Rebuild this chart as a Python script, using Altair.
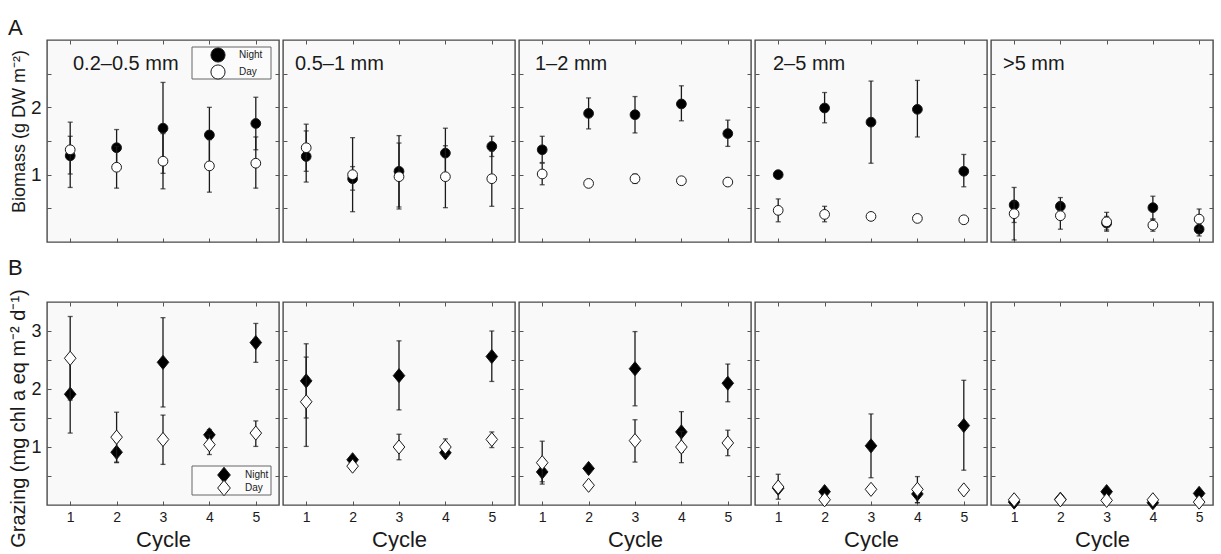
import altair as alt
import pandas as pd

# ---------------- data ----------------
sizes = ["0.2–0.5 mm", "0.5–1 mm", "1–2 mm", "2–5 mm", ">5 mm"]
cycles = [1, 2, 3, 4, 5]

# Biomass (g DW m-2), row A
bio_night = [[1.28, 1.40, 1.69, 1.59, 1.76],
             [1.27, 0.94, 1.05, 1.32, 1.42],
             [1.37, 1.91, 1.89, 2.05, 1.61],
             [1.00, 1.99, 1.78, 1.97, 1.05],
             [0.55, 0.53, 0.28, 0.51, 0.19]]
bio_night_lo = [[1.01, 1.13, 1.02, 1.18, 1.37],
                [0.89, 0.77, 0.52, 0.95, 1.27],
                [1.18, 1.68, 1.62, 1.80, 1.42],
                [1.00, 1.77, 1.17, 1.56, 0.82],
                [0.29, 0.40, 0.18, 0.34, 0.09]]
bio_night_hi = [[1.57, 1.67, 2.37, 2.00, 2.15],
                [1.65, 1.12, 1.58, 1.69, 1.57],
                [1.57, 2.14, 2.16, 2.32, 1.81],
                [1.00, 2.22, 2.39, 2.40, 1.30],
                [0.81, 0.66, 0.38, 0.68, 0.29]]
bio_day = [[1.37, 1.11, 1.20, 1.13, 1.17],
           [1.40, 1.00, 0.97, 0.97, 0.94],
           [1.01, 0.87, 0.94, 0.91, 0.89],
           [0.47, 0.41, 0.38, 0.35, 0.33],
           [0.42, 0.39, 0.30, 0.25, 0.34]]
bio_day_lo = [[0.81, 0.80, 0.79, 0.74, 0.80],
              [1.05, 0.45, 0.49, 0.51, 0.53],
              [0.85, 0.82, 0.87, 0.91, 0.89],
              [0.30, 0.30, 0.38, 0.35, 0.33],
              [0.03, 0.19, 0.16, 0.16, 0.19]]
bio_day_hi = [[1.78, 1.42, 1.61, 1.52, 1.56],
              [1.75, 1.55, 1.47, 1.43, 1.35],
              [1.17, 0.92, 1.01, 0.91, 0.89],
              [0.64, 0.53, 0.38, 0.35, 0.33],
              [0.60, 0.59, 0.44, 0.34, 0.49]]

# Grazing (mg chl a eq m-2 d-1), row B
gr_night = [[1.91, 0.91, 2.46, 1.21, 2.80],
            [2.14, 0.78, 2.23, 0.90, 2.56],
            [0.57, 0.63, 2.35, 1.26, 2.10],
            [0.29, 0.23, 1.02, 0.19, 1.37],
            [0.05, 0.10, 0.23, 0.04, 0.20]]
gr_night_lo = [[1.24, 0.73, 1.69, 1.12, 2.46],
               [1.50, 0.72, 1.64, 0.85, 2.13],
               [0.40, 0.58, 1.71, 0.91, 1.78],
               [0.22, 0.20, 0.47, 0.04, 0.60],
               [0.05, 0.10, 0.23, 0.04, 0.20]]
gr_night_hi = [[2.58, 1.09, 3.23, 1.30, 3.13],
               [2.78, 0.84, 2.83, 0.95, 3.00],
               [0.74, 0.68, 2.99, 1.61, 2.43],
               [0.36, 0.26, 1.57, 0.34, 2.15],
               [0.05, 0.10, 0.23, 0.04, 0.20]]
gr_day = [[2.53, 1.17, 1.13, 1.04, 1.24],
          [1.78, 0.67, 1.00, 1.00, 1.13],
          [0.73, 0.34, 1.11, 1.00, 1.07],
          [0.31, 0.09, 0.27, 0.27, 0.26],
          [0.09, 0.09, 0.08, 0.09, 0.05]]
gr_day_lo = [[1.81, 0.74, 0.70, 0.87, 1.01],
             [1.01, 0.60, 0.78, 0.86, 0.99],
             [0.36, 0.30, 0.74, 0.73, 0.85],
             [0.10, 0.06, 0.27, 0.04, 0.26],
             [0.09, 0.09, 0.08, 0.09, 0.05]]
gr_day_hi = [[3.25, 1.60, 1.55, 1.21, 1.45],
             [2.55, 0.74, 1.22, 1.14, 1.26],
             [1.10, 0.38, 1.47, 1.27, 1.29],
             [0.53, 0.12, 0.27, 0.49, 0.26],
             [0.09, 0.09, 0.08, 0.09, 0.05]]

legend_labels = ["Night", "Day"]

# ---------------- style ----------------
FONT = "Liberation Sans"
INK = "#1a1a1a"
DIAMOND = "M0,-1L0.82,0L0,1L-0.82,0Z"
PANEL_W = [232, 232, 232, 232, 222]
X_MAX = [5.5, 5.5, 5.5, 5.5, 5.3]
LABEL_X = [26, 12, 16, 18, 12]


def panel(p, row):
    if row == "A":
        n, nlo, nhi = bio_night[p], bio_night_lo[p], bio_night_hi[p]
        d, dlo, dhi = bio_day[p], bio_day_lo[p], bio_day_hi[p]
        ymax, h, shape, msize = 3.0, 202, "circle", 95
        yvals = [0.5, 1, 1.5, 2, 2.5]
        ytitle = "Biomass (g DW m⁻²)"
        tfs, ty = 18, 91
    else:
        n, nlo, nhi = gr_night[p], gr_night_lo[p], gr_night_hi[p]
        d, dlo, dhi = gr_day[p], gr_day_lo[p], gr_day_hi[p]
        ymax, h, shape, msize = 3.5, 203, DIAMOND, 200
        yvals = [0.5, 1, 1.5, 2, 2.5, 3]
        ytitle = "Grazing (mg chl a eq m⁻² d⁻¹)"
        tfs, ty = 20, 116

    xs = alt.Scale(domain=[0.5, X_MAX[p]], nice=False, zero=False)
    ys = alt.Scale(domain=[0, ymax], nice=False, zero=False)

    xkw = dict(orient="bottom", values=cycles, domain=False, grid=False,
               tickSize=4, offset=-4, tickColor="#555", tickWidth=1,
               labels=(row == "B"), labelFontSize=14, labelPadding=5,
               labelColor=INK, labelFont=FONT, format="d")
    if row == "B":
        xkw.update(title="Cycle", titleFontSize=22, titleFontWeight="normal",
                   titleFont=FONT, titleColor=INK, titlePadding=5)
    else:
        xkw.update(title="")
    ykw = dict(orient="left", values=yvals, domain=False, grid=False,
               tickSize=4, offset=-4, tickColor="#555", tickWidth=1,
               labels=(p == 0), labelFontSize=19 if row == "A" else 18,
               format=".0f",
               labelExpr="datum.value % 1 == 0 ? datum.label : ''",
               labelPadding=6, labelColor=INK, labelFont=FONT)
    if p == 0:
        ykw.update(title=ytitle, titleFontSize=tfs, titleFontWeight="normal",
                   titleFont=FONT, titleColor=INK, titlePadding=2, titleY=ty)
    else:
        ykw.update(title="")
    xax = alt.Axis(**xkw)
    yax = alt.Axis(**ykw)

    dfn = pd.DataFrame({"cycle": cycles, "mean": n, "lo": nlo, "hi": nhi})
    dfd = pd.DataFrame({"cycle": cycles, "mean": d, "lo": dlo, "hi": dhi})

    def series(df, fill):
        b = alt.Chart(df)
        rule = b.mark_rule(color=INK, strokeWidth=1.3).encode(
            x=alt.X("cycle:Q", scale=xs, axis=xax),
            y=alt.Y("lo:Q", scale=ys, axis=yax), y2="hi:Q")
        cap_lo = b.mark_tick(orient="horizontal", color=INK, size=5, thickness=1.3).encode(
            x=alt.X("cycle:Q", scale=xs, axis=xax), y=alt.Y("lo:Q", scale=ys, axis=yax))
        cap_hi = b.mark_tick(orient="horizontal", color=INK, size=5, thickness=1.3).encode(
            x=alt.X("cycle:Q", scale=xs, axis=xax), y=alt.Y("hi:Q", scale=ys, axis=yax))
        pts = b.mark_point(shape=shape, filled=True, fill=fill, stroke=INK,
                           strokeWidth=1, size=msize, opacity=1, clip=False).encode(
            x=alt.X("cycle:Q", scale=xs, axis=xax), y=alt.Y("mean:Q", scale=ys, axis=yax))
        return [rule, cap_lo, cap_hi, pts]

    one = pd.DataFrame({"k": [0]})
    layers = series(dfn, "black") + series(dfd, "white")
    if row == "A":
        layers.append(alt.Chart(one).mark_text(
            text=sizes[p], font=FONT, fontSize=20, align="left", baseline="middle",
            color=INK).encode(x=alt.value(LABEL_X[p]), y=alt.value(24)))

    if p == 0:
        if row == "A":
            bx, by0, by1, mx, tx, ly = 145, 7, 39, 171, 192, [15, 32]
            lshape, lsize = "circle", 200
        else:
            bx, by0, by1, mx, tx, ly = 145, 164, 193, 177, 198, [173, 186]
            lshape, lsize = DIAMOND, 240
        layers.append(alt.Chart(one).mark_rect(fill="#fbfbfb", stroke="#666", strokeWidth=1).encode(
            x=alt.value(bx), x2=alt.value(bx + 79), y=alt.value(by0), y2=alt.value(by1)))
        for lab, yy, fill in zip(legend_labels, ly, ["black", "white"]):
            layers.append(alt.Chart(one).mark_point(
                shape=lshape, filled=True, fill=fill, stroke=INK, strokeWidth=1,
                size=lsize, opacity=1).encode(x=alt.value(mx), y=alt.value(yy)))
            layers.append(alt.Chart(one).mark_text(
                text=lab, font=FONT, fontSize=10, align="left", baseline="middle",
                color=INK).encode(x=alt.value(tx), y=alt.value(yy)))
        big = "A" if row == "A" else "B"
        layers.append(alt.Chart(one).mark_text(
            text=big, font=FONT, fontSize=22, align="left", baseline="middle",
            color=INK).encode(x=alt.value(-39), y=alt.value(-12 if row == "A" else -34)))

    inner = alt.layer(*layers)

    # ticks on the top and right edges (MATLAB-style box)
    tax = alt.Axis(orient="top", values=cycles, domain=False, grid=False, labels=False,
                   tickSize=4, offset=-4, tickColor="#555", title="")
    rax = alt.Axis(orient="right", values=yvals, domain=False, grid=False, labels=False,
                   tickSize=4, offset=-4, tickColor="#555", title="")
    ghost = alt.Chart(dfn).mark_point(opacity=0).encode(
        x=alt.X("cycle:Q", scale=xs, axis=tax), y=alt.Y("mean:Q", scale=ys, axis=rax))

    return alt.layer(inner, ghost).resolve_axis(x="independent", y="independent").properties(
        width=PANEL_W[p], height=h)


panels = [panel(p, "A") for p in range(5)] + [panel(p, "B") for p in range(5)]

chart = alt.concat(*panels, columns=5, spacing={"row": 60, "column": 4}, bounds="flush").properties(
    padding={"left": 7, "top": 16, "right": 0, "bottom": 0},
    background="white",
).configure_view(
    fill="#f9f9f9", stroke="#4a4a4a", strokeWidth=1.4
)

chart.save("out.html", embed_options={"renderer": "svg", "actions": False})
